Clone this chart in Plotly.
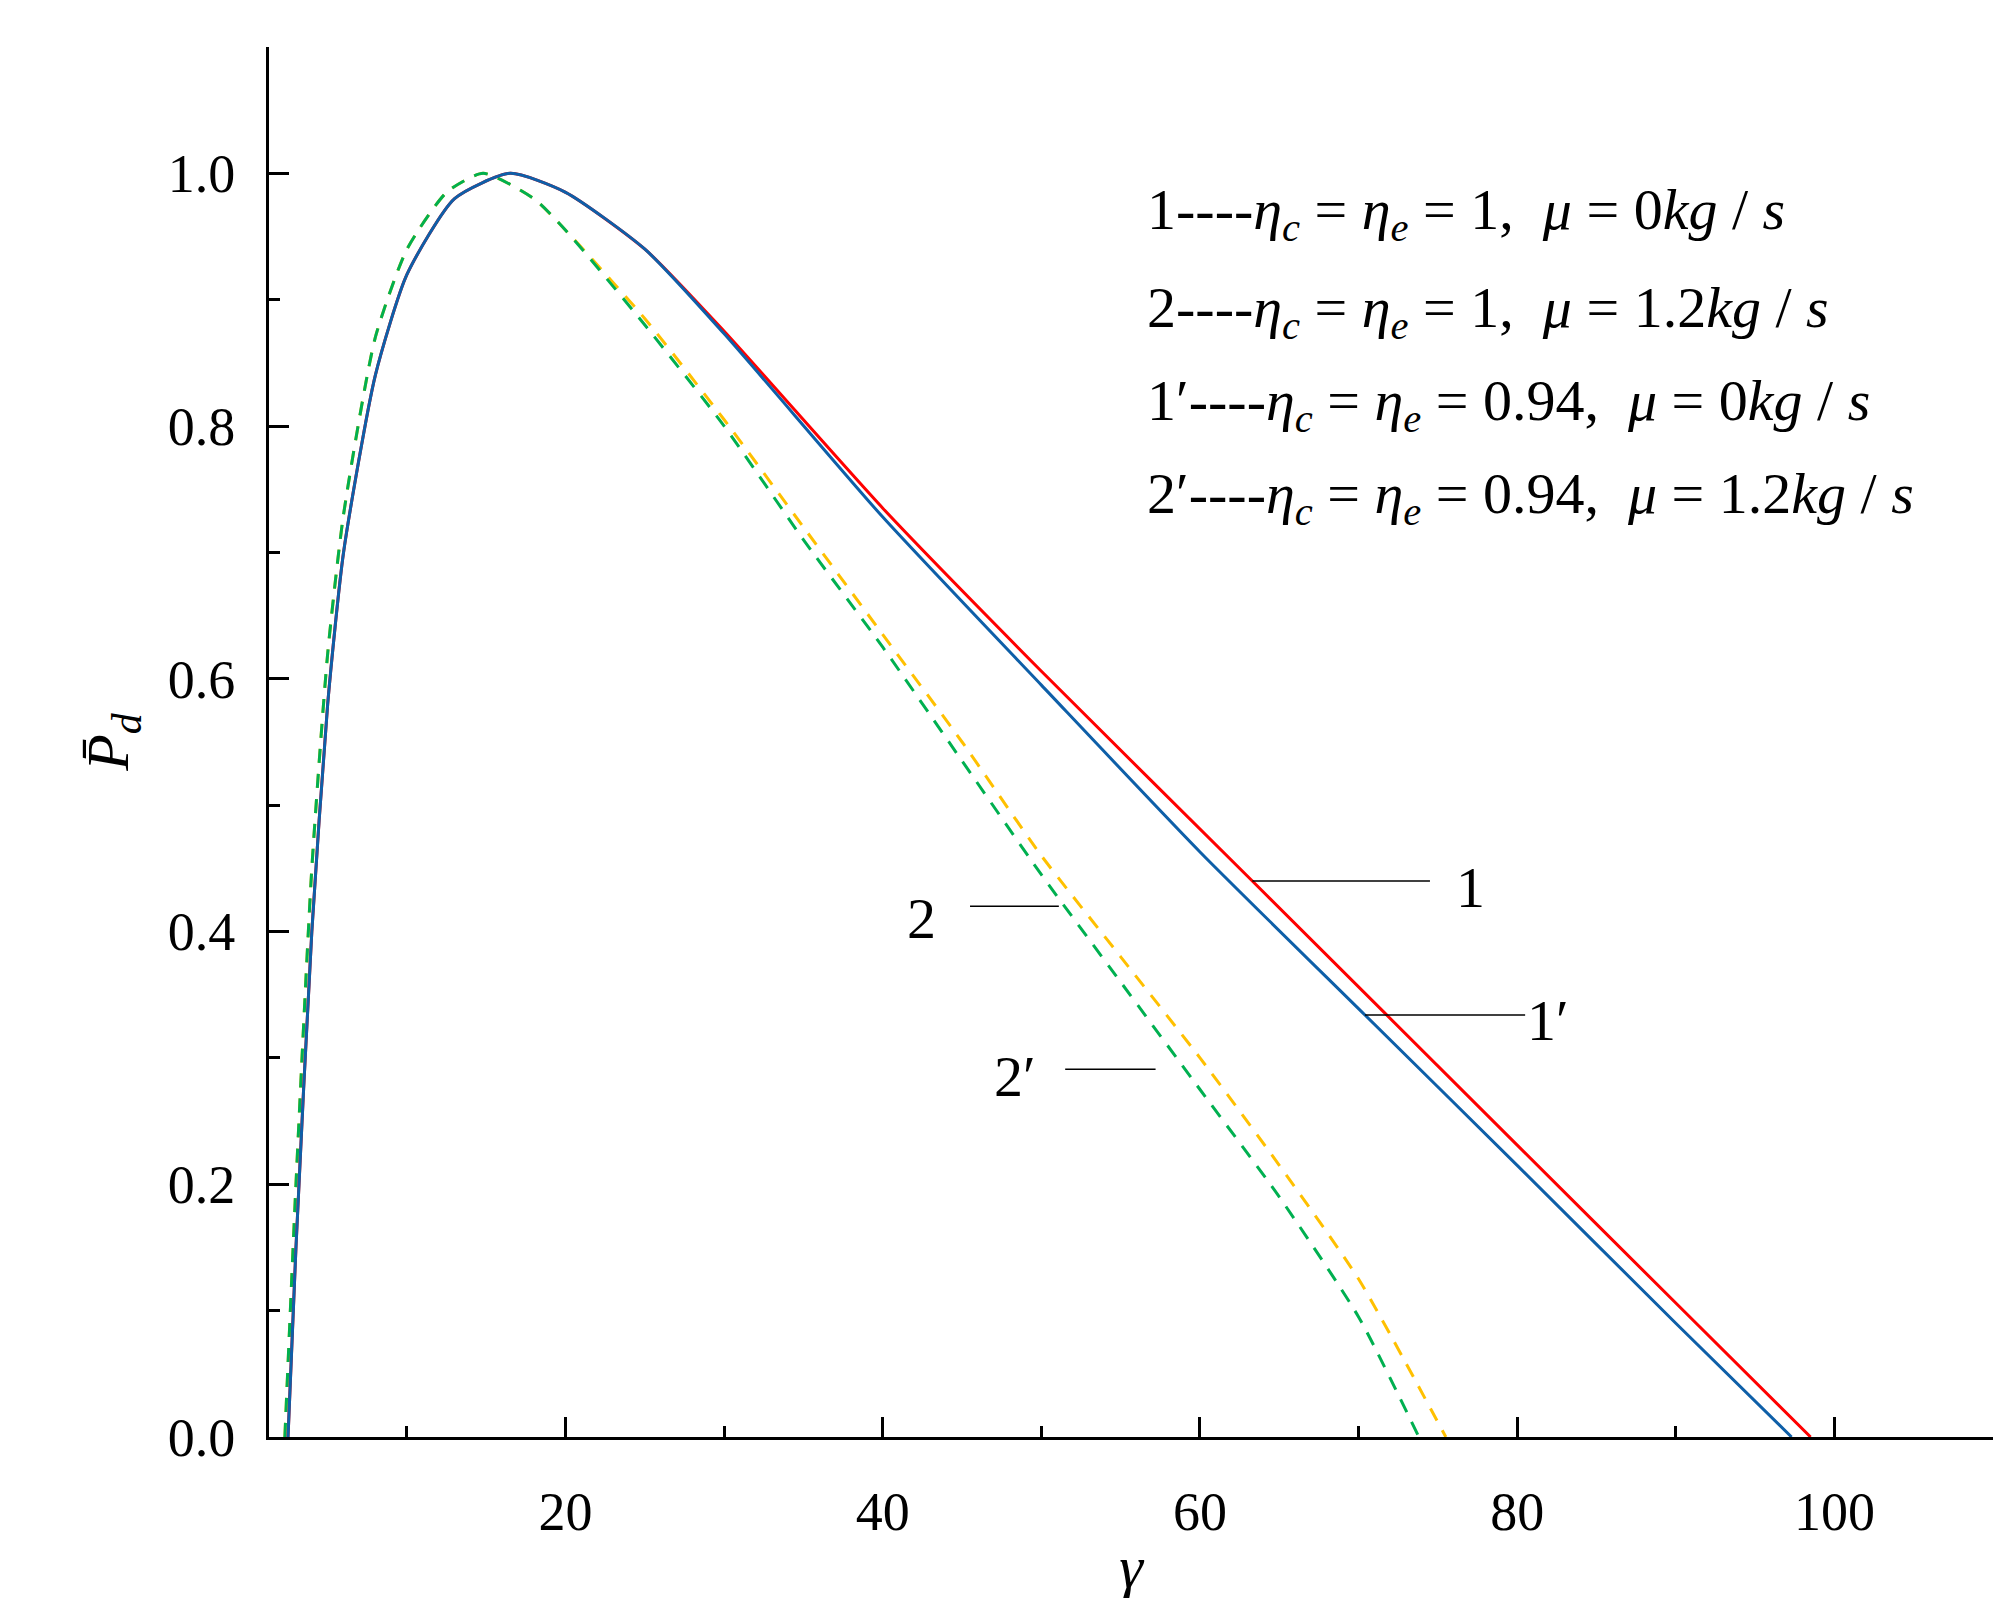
import plotly.graph_objects as go

# curve 1 (red, solid): eta=1, mu=0
g1 = [2.5, 3, 4, 5, 6, 8, 10, 13, 16.5, 20, 25, 30, 40, 50, 63.3, 80, 90, 98.5]
p1 = [0, 0.15, 0.40, 0.58, 0.70, 0.84, 0.92, 0.98, 1.0, 0.985, 0.94, 0.875, 0.735, 0.606, 0.44, 0.231, 0.106, 0]
# curve 1' (blue, solid): eta=0.94, mu=0
g1p = [2.5, 3, 4, 5, 6, 8, 10, 13, 16.5, 20, 25, 30, 40, 50, 60, 70.4, 80, 90, 97.3]
p1p = [0, 0.15, 0.40, 0.58, 0.70, 0.84, 0.92, 0.98, 1.0, 0.985, 0.94, 0.873, 0.728, 0.595, 0.463, 0.334, 0.215, 0.09, 0]
# curve 2 (yellow, dashed)
g2 = [2.3, 3, 4, 5, 6, 8, 10, 12.5, 14.8, 18, 20, 25, 30, 35, 40, 45, 50, 55, 60, 65, 70, 75.5]
p2 = [0, 0.2, 0.45, 0.62, 0.73, 0.87, 0.94, 0.985, 1.0, 0.98, 0.955, 0.885, 0.805, 0.72, 0.635, 0.55, 0.46, 0.38, 0.30, 0.215, 0.125, 0]
# curve 2' (green, dashed)
g2p = [2.3, 3, 4, 5, 6, 8, 10, 12.5, 14.8, 18, 20, 25, 30, 35, 40, 45, 50, 55, 60, 65, 70, 73.8]
p2p = [0, 0.2, 0.45, 0.62, 0.73, 0.87, 0.94, 0.985, 1.0, 0.98, 0.955, 0.88, 0.80, 0.71, 0.625, 0.535, 0.445, 0.36, 0.275, 0.19, 0.095, 0]

xticks = [20, 40, 60, 80, 100]
yticks = [0.0, 0.2, 0.4, 0.6, 0.8, 1.0]

FAM = "Times New Roman, Liberation Serif, serif"

fig = go.Figure()
fig.add_trace(go.Scatter(x=g2, y=p2, mode="lines", line=dict(color="#FFC000", width=3, dash="14px,11px", shape="spline", smoothing=0.6)))
fig.add_trace(go.Scatter(x=g2p, y=p2p, mode="lines", line=dict(color="#00B050", width=3, dash="14px,11px", shape="spline", smoothing=0.6)))
fig.add_trace(go.Scatter(x=g1, y=p1, mode="lines", line=dict(color="#FF0000", width=3, shape="spline", smoothing=0.6)))
fig.add_trace(go.Scatter(x=g1p, y=p1p, mode="lines", line=dict(color="#0E5FA8", width=3, shape="spline", smoothing=0.6)))

font = dict(family=FAM, size=54, color="black")
axcommon = dict(showgrid=False, zeroline=False, showline=True, linecolor="black", linewidth=3,
                ticks="inside", ticklen=20, tickwidth=3, tickcolor="black",
                minor=dict(ticks="inside", ticklen=11, tickwidth=3, tickcolor="black"),
                tickfont=font)
fig.update_xaxes(range=[1.3, 110], tickvals=xticks, ticktext=[str(v) for v in xticks],
                 minor_dtick=10, minor_tick0=0, ticklabelstandoff=25,
                 title=dict(text="<i>γ</i>", font=dict(family=FAM, size=60), standoff=5), **axcommon)
fig.update_yaxes(range=[0, 1.1], tickvals=yticks, ticktext=[f"{v:.1f}" for v in yticks],
                 minor_dtick=0.1, minor_tick0=0, ticklabelstandoff=20,
                 title=dict(text="<i>P̄<sub>d</sub></i>", font=dict(family=FAM, size=60), standoff=20), **axcommon)

leg = ["1----<i>η<sub>c</sub></i> = <i>η<sub>e</sub></i> = 1,  <i>μ</i> = 0<i>kg</i> / <i>s</i>",
       "2----<i>η<sub>c</sub></i> = <i>η<sub>e</sub></i> = 1,  <i>μ</i> = 1.2<i>kg</i> / <i>s</i>",
       "1′----<i>η<sub>c</sub></i> = <i>η<sub>e</sub></i> = 0.94,  <i>μ</i> = 0<i>kg</i> / <i>s</i>",
       "2′----<i>η<sub>c</sub></i> = <i>η<sub>e</sub></i> = 0.94,  <i>μ</i> = 1.2<i>kg</i> / <i>s</i>"]
ylegs = [0.88, 0.81, 0.743, 0.676]
for t, yy in zip(leg, ylegs):
    fig.add_annotation(x=0.508, y=yy, xref="paper", yref="paper", text=t, showarrow=False,
                       xanchor="left", yanchor="middle", font=dict(family=FAM, size=58))

# leader lines and labels
leaders = [(63.3, 0.44, 74.5, 0.44, "1", 76.0, 0.435),
           (70.4, 0.334, 80.5, 0.334, "1′", 80.5, 0.33),
           (45.5, 0.42, 51.1, 0.42, "2", 43.5, 0.41),
           (51.5, 0.291, 57.2, 0.291, "2′", 49.8, 0.285)]
for x0, y0, x1, y1, lab, lx, ly in leaders:
    fig.add_shape(type="line", x0=x0, y0=y0, x1=x1, y1=y1, line=dict(color="black", width=1.5))
    fig.add_annotation(x=lx, y=ly, text=lab, showarrow=False, xanchor="left" if lab.startswith("1") else "right",
                       font=dict(family=FAM, size=58))

fig.update_layout(width=2015, height=1598, plot_bgcolor="white", paper_bgcolor="white",
                  showlegend=False, margin=dict(l=261, r=30, t=39, b=169), font=font)
fig.write_html("out.html")
